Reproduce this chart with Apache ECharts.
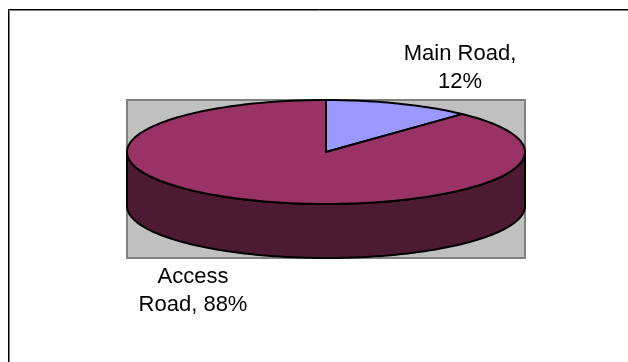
<!DOCTYPE html>
<html><head><meta charset="utf-8">
<style>html,body{margin:0;padding:0;background:#fff}#c{width:628px;height:362px}</style>
<script src="https://cdn.jsdelivr.net/npm/echarts@6/dist/echarts.min.js"></script>
</head><body><div id="c"></div>
<script>
const categories = ['Main Road', 'Access Road'];
const shares = [12, 88];
const labelLines = [['Main Road,', '12%'], ['Access', 'Road, 88%']];
const topColors = ['#9999ff', '#993366'];
const sideColor = '#4d1a33';

const chart = echarts.init(document.getElementById('c'), null, {renderer: 'canvas'});
const CX = 326, CY = 152, RX = 199, RY = 52, DEPTH = 54;
const total = shares.reduce((a, b) => a + b, 0);
const pt = (a, dy) => [CX + RX * Math.sin(a), CY - RY * Math.cos(a) + (dy || 0)];

function slicePath(a0, a1) {
  let d = 'M' + CX + ' ' + CY + ' L' + pt(a0).join(' ');
  const steps = Math.max(8, Math.ceil((a1 - a0) * 40));
  for (let i = 1; i <= steps; i++) d += ' L' + pt(a0 + (a1 - a0) * i / steps).join(' ');
  return d + ' Z';
}
function sidePath() {
  let d = 'M' + (CX + RX) + ' ' + CY;
  const n = 200;
  for (let i = 0; i <= n; i++) d += ' L' + pt(Math.PI / 2 + Math.PI * i / n, DEPTH).join(' ');
  for (let i = n; i >= 0; i--) d += ' L' + pt(Math.PI / 2 + Math.PI * i / n).join(' ');
  return d + ' Z';
}
const borderStyle = {stroke: '#000', lineWidth: 2, lineJoin: 'round'};

chart.setOption({
  animation: false,
  backgroundColor: '#fff',
  graphic: [
    {type: 'line', shape: {x1: 9.5, y1: 10.5, x2: 628, y2: 10.5}, style: {stroke: '#808080', lineWidth: 1}},
    {type: 'line', shape: {x1: 9.5, y1: 10.5, x2: 9.5, y2: 362}, style: {stroke: '#808080', lineWidth: 1}},
    {type: 'line', shape: {x1: 8.5, y1: 9.5, x2: 628, y2: 9.5}, style: {stroke: '#000', lineWidth: 1}},
    {type: 'line', shape: {x1: 8.5, y1: 9.5, x2: 8.5, y2: 362}, style: {stroke: '#000', lineWidth: 1}},
    {type: 'rect', z: -1, shape: {x: 127, y: 100, width: 398, height: 158},
      style: {fill: '#c0c0c0', stroke: '#808080', lineWidth: 2}}
  ],
  series: [{
    type: 'custom',
    coordinateSystem: 'none',
    data: categories.map((c, i) => ({name: c, value: shares[i]})),
    renderItem(params, api) {
      const i = params.dataIndex;
      const before = shares.slice(0, i).reduce((a, b) => a + b, 0);
      const a0 = before / total * Math.PI * 2;
      const a1 = (before + api.value(0)) / total * Math.PI * 2;
      const children = [];
      if (i === 1) children.push({type: 'path', shape: {pathData: sidePath()},
        style: Object.assign({fill: sideColor}, borderStyle)});
      children.push({type: 'path', shape: {pathData: slicePath(a0, a1)},
        style: Object.assign({fill: topColors[i]}, borderStyle)});
      const pos = i === 0 ? [460, 54] : [193, 277];
      labelLines[i].forEach((t, k) => children.push({type: 'text', z2: 10, style: {
        text: t, x: pos[0], y: pos[1] + k * 28, align: 'center', verticalAlign: 'middle',
        fontSize: 22, fontFamily: '"Liberation Sans", Arial, sans-serif', fill: '#000'}}));
      return {type: 'group', children};
    }
  }]
});
</script></body></html>
